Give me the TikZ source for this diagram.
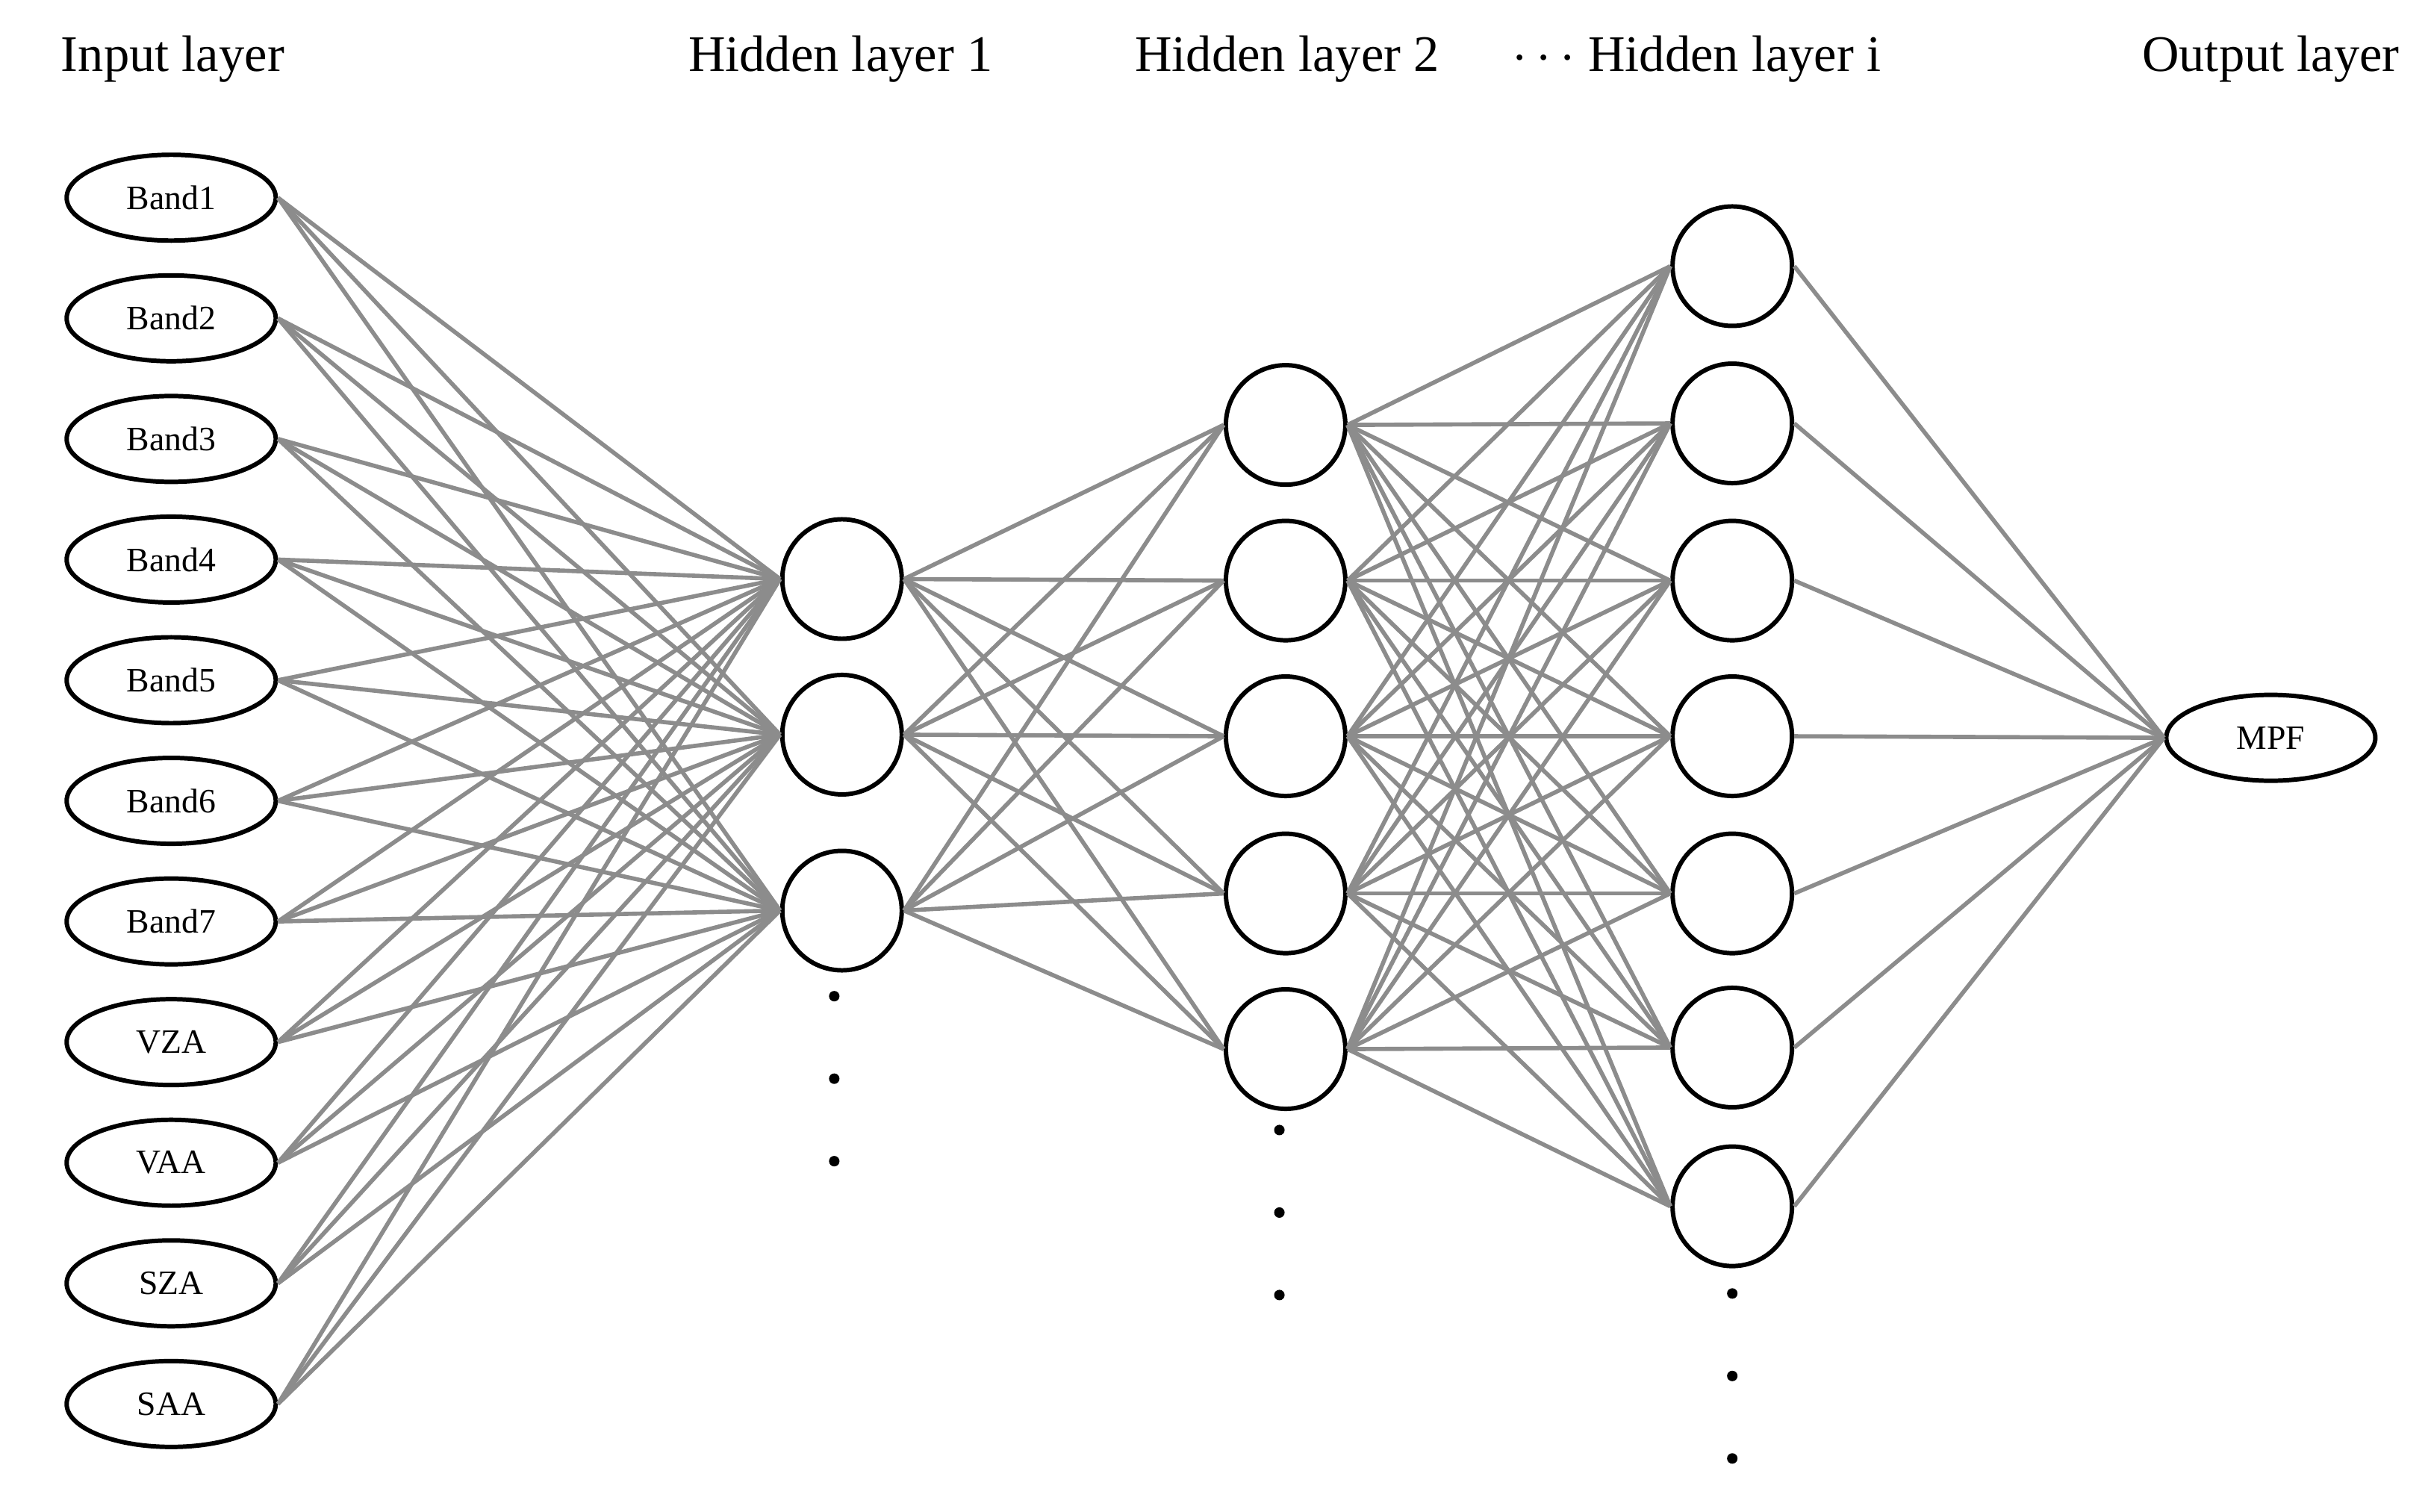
\documentclass[tikz,border=0pt]{standalone}
\usepackage{fontspec}
\setmainfont{Liberation Serif}
\usetikzlibrary{shapes.geometric}
\begin{document}
\begin{tikzpicture}[x=0.02085cm,y=-0.02085cm,
  inp/.style={ellipse,draw=black,line width=1.7pt,minimum width=2.8cm,minimum height=1.15cm,inner sep=0pt,font=\fontsize{13}{15}\selectfont},
  neu/.style={circle,draw=black,line width=1.7pt,minimum size=1.6cm,inner sep=0pt},
  con/.style={draw=gray!90,line width=1.6pt},
  ttl/.style={font=\fontsize{19.5}{23}\selectfont,anchor=base},
  dot/.style={circle,fill=black,inner sep=0pt,minimum size=4pt}]
\useasboundingbox (0,0) rectangle (1560,971);
\foreach \t [count=\i] in {Band1,Band2,Band3,Band4,Band5,Band6,Band7,VZA,VAA,SZA,SAA}
  \node[inp] (in\i) at (110,{127+77.5*(\i-1)}) {\t};
\foreach \y [count=\i] in {372,472,585} \node[neu] (a\i) at (541,\y) {};
\foreach \y [count=\i] in {273,373,473,574,674} \node[neu] (b\i) at (826,\y) {};
\foreach \y [count=\i] in {171,272,373,473,574,673,775} \node[neu] (c\i) at (1113,\y) {};
\node[inp] (out) at (1459,474) {MPF};
\foreach \i in {1,...,11} \foreach \j in {1,2,3} \draw[con] (in\i.east) -- (a\j.west);
\foreach \i in {1,2,3} \foreach \j in {1,...,5} \draw[con] (a\i.east) -- (b\j.west);
\foreach \i in {1,...,5} \foreach \j in {1,...,7} \draw[con] (b\i.east) -- (c\j.west);
\foreach \i in {1,...,7} \draw[con] (c\i.east) -- (out.west);
\foreach \y [count=\i] in {640,693,746} \node[dot] (da\i) at (536,\y) {};
\foreach \y [count=\i] in {726,779,832} \node[dot] (db\i) at (822,\y) {};
\foreach \y [count=\i] in {831,884,937} \node[dot] (dc\i) at (1113,\y) {};
\node[ttl] (t1) at (111,46) {Input layer};
\node[ttl] (t2) at (540,46) {Hidden layer 1};
\node[ttl] (t3) at (827,46) {Hidden layer 2};
\node[ttl] (t4) at (1090,46) {$\cdots$ Hidden layer i};
\node[ttl] (t5) at (1459,46) {Output layer};
\end{tikzpicture}
\end{document}
